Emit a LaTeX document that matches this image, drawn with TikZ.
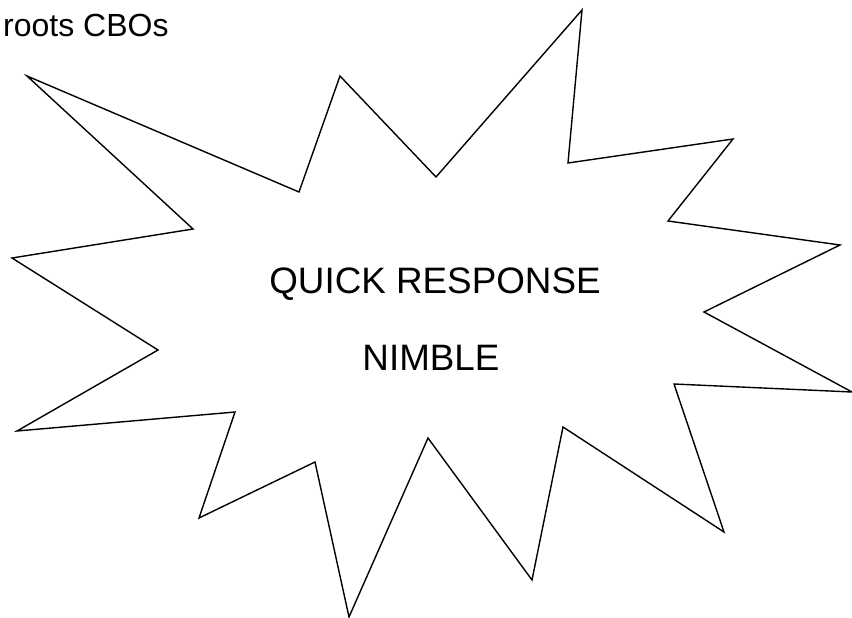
\documentclass[tikz,border=0pt]{standalone}
\usepackage{fontspec}
\setmainfont{Liberation Sans}
\tikzset{
  burst/.style={draw=black, line width=1.4pt, line join=miter},
  bigtext/.style={font=\fontsize{36.8}{40}\selectfont, inner sep=0pt, anchor=base},
  cornertext/.style={font=\fontsize{32}{36}\selectfont, inner sep=0pt, anchor=base west}
}
\begin{document}
\begin{tikzpicture}[x=1pt, y=-1pt]
      \useasboundingbox (0,0) rectangle (852,618);
      % the burst
      \draw[burst]
        (27,76) -- (299,192) -- (340,76) -- (436,177)
        -- (582,10) -- (568,163) -- (733,139) -- (668,221)
        -- (840,245) -- (704,312) -- (852,392) -- (674,384)
        -- (724,532) -- (563,427) -- (532,580) -- (428,438)
        -- (349,617) -- (315,462) -- (199,518) -- (235,412)
        -- (17,431) -- (158,350) -- (12,258) -- (193,229) -- cycle;
      % texts
      \node[bigtext] (quick) at (435,293) {QUICK RESPONSE};
      \node[bigtext] (nimble) at (431,370) {NIMBLE};
      \node[cornertext] (roots) at (3,37) {roots CBOs};
    \end{tikzpicture}
\end{document}
